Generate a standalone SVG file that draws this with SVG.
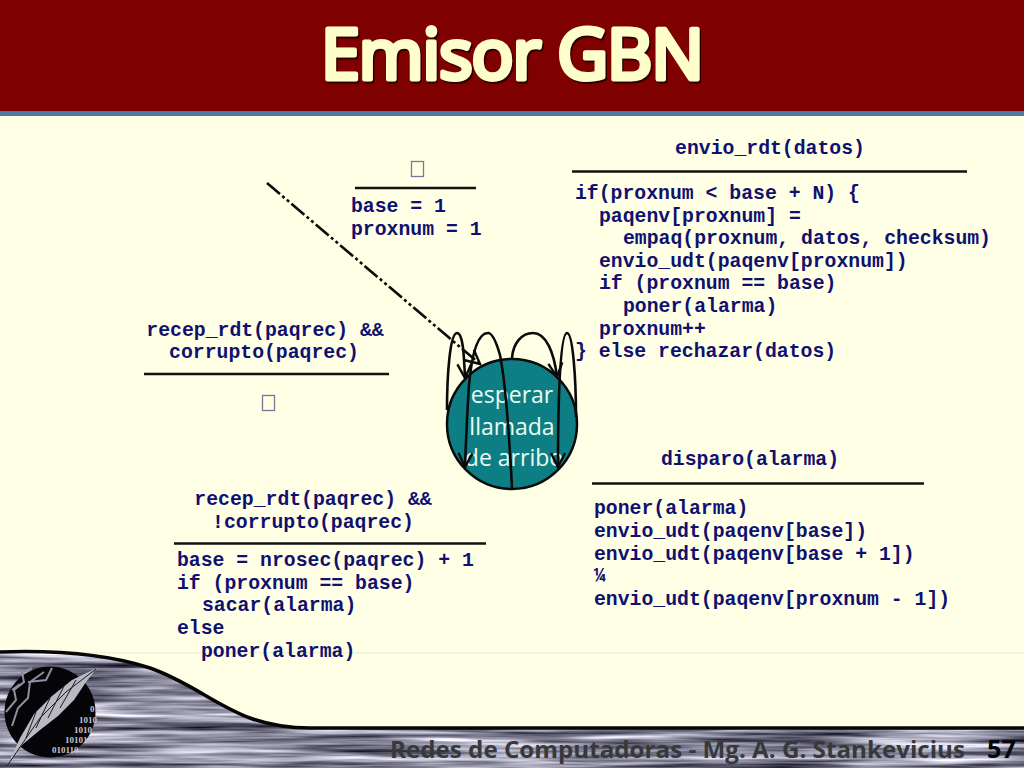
<svg xmlns="http://www.w3.org/2000/svg" width="1024" height="768" viewBox="0 0 1024 768">
<style>
.c{font-family:"Liberation Mono",monospace;font-weight:bold;font-size:19.8px;fill:#10106f}
.m{text-anchor:middle}
.r{stroke:#111;stroke-width:2.5;fill:none}
.a{fill:none;stroke:#0a0a0a;stroke-width:2.6}
.s{font-family:"Open Sans","DejaVu Sans",sans-serif;font-size:23px;fill:#eefaf0;text-anchor:middle}
.t{fill:none;stroke:#8f8f9f;stroke-width:2}
.b{font-family:"Liberation Serif",serif;font-weight:bold;font-size:9px;fill:#c4c4ce}
.f{font-family:"Open Sans","DejaVu Sans",sans-serif;stroke-linejoin:round}
.x{fill:none;stroke:#77779a;stroke-width:1.3}
</style>
<defs>
<marker id="ah" markerWidth="20" markerHeight="20" refX="15" refY="9" orient="auto" markerUnits="userSpaceOnUse"><path d="M1 2L15 9L1 16" fill="none" stroke="#0a0a0a" stroke-width="2.4"/></marker>
<filter id="tex" x="0" y="0" width="100%" height="100%" color-interpolation-filters="sRGB"><feTurbulence type="fractalNoise" baseFrequency="0.007 0.16" numOctaves="3" seed="7"/><feColorMatrix type="matrix" values="1.5 0 0 0 -0.2 1.5 0 0 0 -0.2 1.5 0 0 0 -0.13 0 0 0 0 1"/><feComposite in2="SourceAlpha" operator="in"/></filter>
</defs>
<rect width="1024" height="768" fill="#ffffe6"/>
<rect y="652" width="1024" height="1.500" fill="#f2f2dc"/>
<g id="header">
<rect width="1024" height="111" fill="#7e0000"/>
<rect y="111" width="1024" height="5" fill="#4f7a9f"/>
<text class="f" x="321" y="79" font-size="70" textLength="383" lengthAdjust="spacing" fill="#2e0000" stroke="#2e0000" stroke-width="5" transform="translate(1.500 1.500)">Emisor GBN</text>
<text class="f" x="321" y="79" font-size="70" textLength="383" lengthAdjust="spacing" fill="#ffffcc" stroke="#ffffcc" stroke-width="5">Emisor GBN</text>
</g>
<g id="footer">
<path d="M0 652C60 650 110 655 150 668C190 682 215 705 250 718C272 726 290 728 310 728L1024 728V768H0Z" fill="#777" filter="url(#tex)"/>
<path d="M0 652C60 650 110 655 150 668C190 682 215 705 250 718C272 726 290 728 310 728L1024 728" fill="none" stroke="#060606" stroke-width="3.500"/>
<text class="f" x="390" y="758" font-size="23" font-weight="bold" textLength="575" lengthAdjust="spacingAndGlyphs" fill="#36383b">Redes de Computadoras - Mg. A. G. Stankevicius</text>
<text class="f" x="987" y="758" font-size="25" font-weight="bold" textLength="29" lengthAdjust="spacingAndGlyphs" fill="#06060f">57</text>
</g>
<g id="logo">
<circle cx="50" cy="712" r="45.500" fill="#050508"/>
<path class="t" d="M6 712L16 700L14 690L24 682L22 672L32 668M12 726L18 708L28 698L30 682L44 672M28 682L46 680L52 668M12 690L20 684"/>
<path d="M7 766L20 738L34 714L52 696L72 680L97 668L86 682L74 700L58 716L40 730L22 745Z" fill="#b9b9c2"/>
<path d="M7 766L40 718L66 692L96 669M26 738L36 712M36 728L50 698M48 718L64 686M60 708L76 680" fill="none" stroke="#1a1a1e" stroke-width="1"/>
<text class="b" x="90" y="712">01</text>
<text class="b" x="79" y="723">1010</text>
<text class="b" x="74" y="733">1010</text>
<text class="b" x="65" y="743">10101</text>
<text class="b" x="52" y="753">010110</text>
</g>
<g id="node-esperar">
<circle cx="512" cy="424" r="65" fill="#0d7f84" stroke="#0a0a0a" stroke-width="2.500"/>
<text class="s" x="512" y="403">esperar</text>
<text class="s" x="512" y="435">llamada</text>
<text class="s" x="514" y="466">de arribo</text>
</g>
<g id="connectors">
<path class="a" d="M267 183L480 364" stroke-dasharray="17 3 3 3 3 3" marker-end="url(#ah)"/>
<path class="a" d="M447 410C447 375 450 333 457 333C463 333 464 355 465 378" marker-end="url(#ah)"/>
<path class="a" d="M512 488C509 430 506 385 500 355C496 341 492 333 488 333C478 333 472 352 469 385C467 415 466 440 465 467" marker-end="url(#ah)"/>
<path class="a" d="M512 358C513 343 522 333 533 333C546 333 554 352 557 377" marker-end="url(#ah)"/>
<path class="a" d="M576 417C576 380 573 333 567 333C560 333 558 400 558 467" marker-end="url(#ah)"/>
</g>
<g id="init">
<rect class="x" x="411.500" y="161.500" width="12" height="15"/>
<path class="r" d="M355 188H476"/>
<text class="c" x="351" y="212">base = 1</text>
<text class="c" x="351" y="235">proxnum = 1</text>
</g>
<g id="envio">
<text class="c m" x="770" y="154">envio_rdt(datos)</text>
<path class="r" d="M572 171.500H967"/>
<text class="c" x="575" y="199">if(proxnum &lt; base + N) {</text>
<text class="c" x="599" y="221.500">paqenv[proxnum] =</text>
<text class="c" x="623" y="244">empaq(proxnum, datos, checksum)</text>
<text class="c" x="599" y="266.500">envio_udt(paqenv[proxnum])</text>
<text class="c" x="599" y="289">if (proxnum == base)</text>
<text class="c" x="623" y="311.500">poner(alarma)</text>
<text class="c" x="599" y="334.500">proxnum++</text>
<text class="c" x="575" y="357">} else rechazar(datos)</text>
</g>
<g id="corrupto">
<text class="c m" x="265" y="336">recep_rdt(paqrec) &amp;&amp;</text>
<text class="c m" x="264" y="358">corrupto(paqrec)</text>
<path class="r" d="M144 374H389"/>
<rect class="x" x="262.500" y="395.500" width="12" height="15"/>
</g>
<g id="no-corrupto">
<text class="c m" x="313" y="505">recep_rdt(paqrec) &amp;&amp;</text>
<text class="c m" x="313" y="528">!corrupto(paqrec)</text>
<path class="r" d="M174 543.500H486"/>
<text class="c" x="177" y="566">base = nrosec(paqrec) + 1</text>
<text class="c" x="177" y="589">if (proxnum == base)</text>
<text class="c" x="202" y="611">sacar(alarma)</text>
<text class="c" x="177" y="634">else</text>
<text class="c" x="201" y="657">poner(alarma)</text>
</g>
<g id="disparo">
<text class="c m" x="750" y="465">disparo(alarma)</text>
<path class="r" d="M592 483.500H924"/>
<text class="c" x="594" y="514">poner(alarma)</text>
<text class="c" x="594" y="537">envio_udt(paqenv[base])</text>
<text class="c" x="594" y="560">envio_udt(paqenv[base + 1])</text>
<text class="c" x="594" y="582">¼</text>
<text class="c" x="594" y="605">envio_udt(paqenv[proxnum - 1])</text>
</g>
</svg>
